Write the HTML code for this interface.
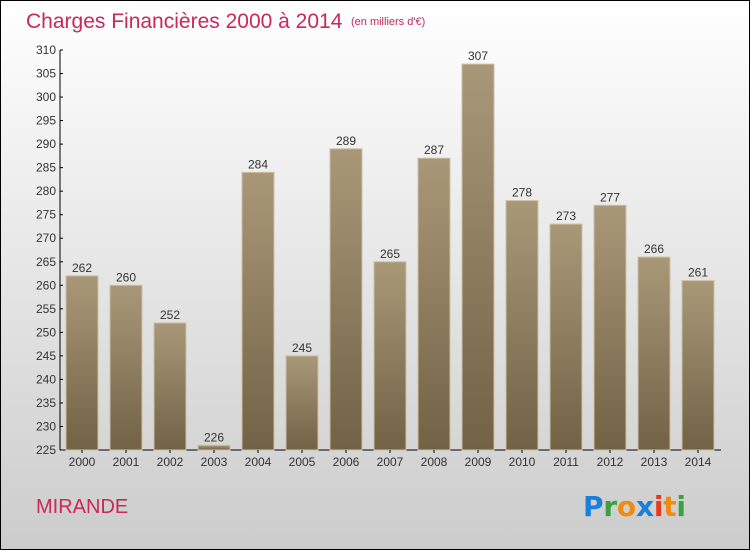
<!DOCTYPE html>
<html><head><meta charset="utf-8"><style>
body{margin:0;width:750px;height:550px;overflow:hidden;font-family:"Liberation Sans",sans-serif}
</style></head><body>
<svg id="chart" width="750" height="550" xmlns="http://www.w3.org/2000/svg">
<defs>
<linearGradient id="bg" x1="0" y1="0" x2="0" y2="1"><stop offset="0" stop-color="#ffffff"/><stop offset="1" stop-color="#cccccc"/></linearGradient>
<linearGradient id="bar" x1="0" y1="0" x2="0" y2="1"><stop offset="0" stop-color="#a99878"/><stop offset="1" stop-color="#726246"/></linearGradient>
</defs>
<rect x="0.5" y="0.5" width="749" height="549" fill="url(#bg)" stroke="#000"/>
<text x="26" y="28" font-size="21" fill="#c8285a">Charges Financières 2000 à 2014</text>
<text x="351" y="25" font-size="11" fill="#c8285a">(en milliers d'€)</text>
<text x="36" y="513" font-size="20" fill="#c8285a">MIRANDE</text>
<g font-size="28" font-weight="bold" style="font-family:'DejaVu Sans',sans-serif">
<text x="583" y="516" textLength="103"><tspan fill="#1a7fd6">P</tspan><tspan fill="#3aa040">r</tspan><tspan fill="#f08a10">o</tspan><tspan fill="#1a7fd6">x</tspan><tspan fill="#e53a20">i</tspan><tspan fill="#f08a10">t</tspan><tspan fill="#3aa040">i</tspan></text>
</g>
<g id="plot"></g>
</svg>
<script>
const categories=["2000","2001","2002","2003","2004","2005","2006","2007","2008","2009","2010","2011","2012","2013","2014"];
const values=[262,260,252,226,284,245,289,265,287,307,278,273,277,266,261];
const yTicks=[225,230,235,240,245,250,255,260,265,270,275,280,285,290,295,300,305,310];
const NS="http://www.w3.org/2000/svg";
const g=document.getElementById('plot');
const x0=60,x1=721,yTop=50,yBot=450,yMin=225,yMax=310;
const y=v=>yBot-(v-yMin)/(yMax-yMin)*(yBot-yTop);
const step=44,first=82;
const xc=i=>first+i*step;
function el(t,a){const e=document.createElementNS(NS,t);for(const k in a)e.setAttribute(k,a[k]);g.appendChild(e);return e;}
let ax=el('line',{x1:x0,y1:yTop,x2:x0,y2:yBot,stroke:'#000'});


let bx=el('line',{x1:x0,y1:yBot,x2:x1,y2:yBot,stroke:'#000'});


yTicks.forEach(t=>{
 let tk=el('line',{x1:x0,y1:y(t),x2:x0+3,y2:y(t),stroke:'#000'});
 
 
 let tl=el('text',{x:x0-4,y:y(t)+4,'font-size':12,'text-anchor':'end',fill:'#333'});
 tl.textContent=t;
 
 
});
values.forEach((v,i)=>{
 let r=el('rect',{x:xc(i)-16,y:y(v),width:32,height:yBot-y(v),fill:'url(#bar)',stroke:'#cdbfa5','stroke-width':1});
 
 
 let vl=el('text',{x:xc(i),y:y(v)-4,'font-size':12,'text-anchor':'middle',fill:'#333'});
 vl.textContent=v;
 
 
 let tk=el('line',{x1:xc(i),y1:yBot,x2:xc(i),y2:yBot+3,stroke:'#000'});
 
 
 let xl=el('text',{x:xc(i),y:yBot+16,'font-size':12,'text-anchor':'middle',fill:'#333'});
 xl.textContent=categories[i];
 
 
});
</script>
</body></html>
